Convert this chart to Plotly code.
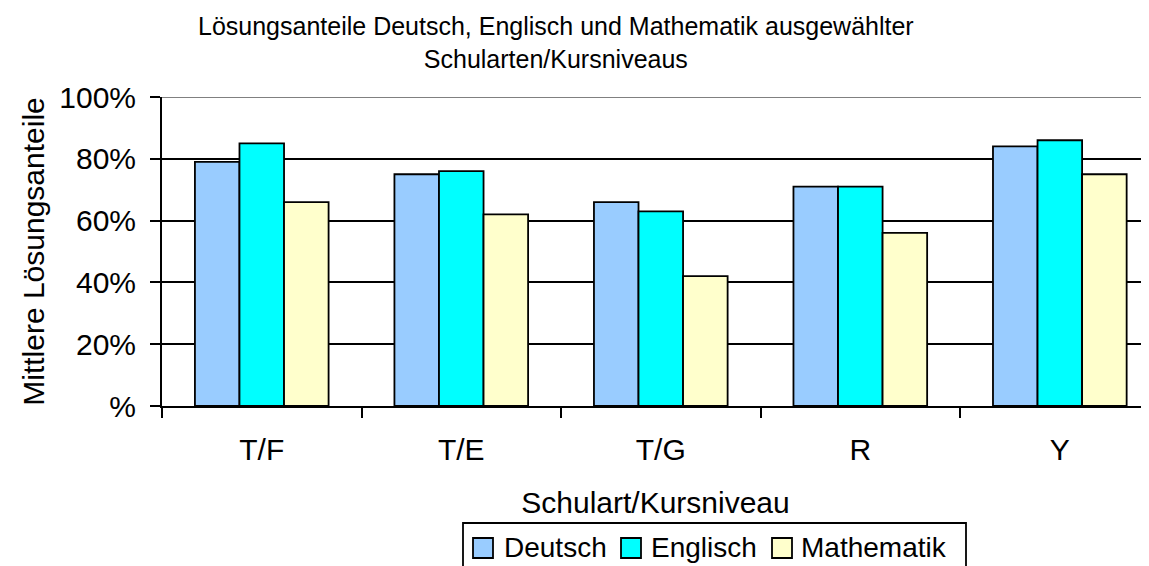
import plotly.graph_objects as go

categories = ["T/F", "T/E", "T/G", "R", "Y"]
deutsch = [0.79, 0.75, 0.66, 0.71, 0.84]
englisch = [0.85, 0.76, 0.63, 0.71, 0.86]
mathematik = [0.66, 0.62, 0.42, 0.56, 0.75]
series_names = ["Deutsch", "Englisch", "Mathematik"]
series_colors = ["#99CCFF", "#00FFFF", "#FFFFCC"]
y_tickvals = [0, 0.2, 0.4, 0.6, 0.8, 1.0]
y_ticktext = ["%", "20%", "40%", "60%", "80%", "100%"]

FONT = "Liberation Sans, Arial, sans-serif"

# page is offset by the 8px body margin
OFF = 8
W, H = 1149 - OFF, 566 - OFF
ML, MT, MR = 162 - OFF, 97 - OFF, 0
PLOT_BOTTOM = 406 - OFF
MB = H - PLOT_BOTTOM
PW = W - ML - MR
PH = PLOT_BOTTOM - MT


def px(xpage):
    return (xpage - OFF - ML) / PW


def py(ypage):
    return (PLOT_BOTTOM - (ypage - OFF)) / PH


fig = go.Figure()
for name, vals, col in zip(series_names, [deutsch, englisch, mathematik], series_colors):
    fig.add_trace(go.Bar(
        x=categories, y=vals, name=name,
        marker=dict(color=col, line=dict(color="black", width=1.8)),
        showlegend=False,
    ))

shapes = [
    dict(type="line", xref="paper", yref="y", x0=0, x1=1, y0=1, y1=1,
         line=dict(color="#808080", width=2), layer="below"),
    # legend frame
    dict(type="rect", xref="paper", yref="paper",
         x0=px(463), x1=px(966), y0=py(523), y1=py(600),
         line=dict(color="black", width=1.8), fillcolor="rgba(0,0,0,0)"),
]
annotations = [
    dict(text="Lösungsanteile Deutsch, Englisch und Mathematik ausgewählter<br>Schularten/Kursniveaus",
         xref="paper", yref="paper", x=px(556), y=py(42), xanchor="center", yanchor="middle",
         showarrow=False, font=dict(size=25)),
]
legend_sq_x = [473, 621, 772]
legend_txt_x = [502, 649, 799]
for name, col, sx, tx in zip(series_names, series_colors, legend_sq_x, legend_txt_x):
    shapes.append(dict(type="rect", xref="paper", yref="paper",
                       x0=px(sx), x1=px(sx + 20), y0=py(538), y1=py(558),
                       line=dict(color="black", width=1.8), fillcolor=col))
    annotations.append(dict(text=name, xref="paper", yref="paper", x=px(tx), y=py(547),
                            xanchor="left", yanchor="middle", showarrow=False,
                            font=dict(size=28)))

fig.update_layout(
    width=W, height=H,
    margin=dict(l=ML, r=MR, t=MT, b=MB, pad=0),
    paper_bgcolor="white", plot_bgcolor="white",
    font=dict(family=FONT, size=30, color="black"),
    barmode="group", bargap=0.33, bargroupgap=0,
    showlegend=False,
    annotations=annotations,
    shapes=shapes,
)

fig.update_xaxes(
    range=[-0.5, 4.447], showline=True, linecolor="black", linewidth=2,
    ticks="outside", tickson="boundaries", ticklen=10, tickwidth=2, tickcolor="black",
    showgrid=False, ticklabelstandoff=16,
    title=dict(text="Schulart/Kursniveau", font=dict(size=30), standoff=27),
)
fig.update_yaxes(
    range=[0, 1.0], tickvals=y_tickvals, ticktext=y_ticktext,
    showline=True, linecolor="black", linewidth=2,
    ticks="outside", ticklen=10, tickwidth=2, tickcolor="black",
    showgrid=True, gridcolor="black", gridwidth=2,
    zeroline=False, ticklabelstandoff=8,
    title=dict(text="Mittlere Lösungsanteile", font=dict(size=30), standoff=6),
)

fig.write_html("out.html")
